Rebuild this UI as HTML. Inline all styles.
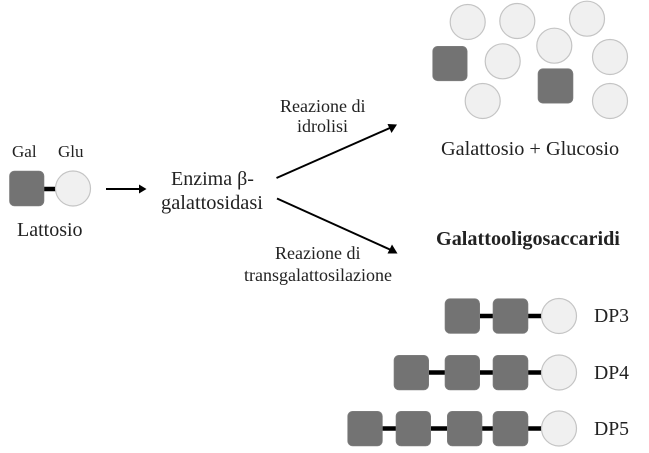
<!DOCTYPE html>
<html><head><meta charset="utf-8"><style>
html,body{margin:0;padding:0;background:#fff}
svg{display:block}
text{font-family:"Liberation Serif",serif;fill:#222}
.s{fill:#737373;stroke:#808080;stroke-width:.6}
.c{fill:#f0f0f0;stroke:#c4c4c4;stroke-width:1.2}
.b{stroke:#000;stroke-width:4.5}
.a{stroke:#000;stroke-width:2;fill:none}
</style></head><body>
<svg width="649" height="453" viewBox="0 0 649 453" xmlns="http://www.w3.org/2000/svg">
<rect width="649" height="453" fill="#fff"/>
<!-- Lactose -->
<line class="b" x1="44" y1="189" x2="57" y2="189"/>
<rect class="s" x="9.500" y="171" width="34.500" height="35" rx="5"/>
<circle class="c" cx="73" cy="188.500" r="17.500"/>
<text x="12" y="157" font-size="17">Gal</text>
<text x="58" y="157" font-size="17">Glu</text>
<text x="17" y="236" font-size="20">Lattosio</text>
<!-- Small arrow -->
<line class="a" x1="106" y1="189" x2="141" y2="189"/>
<polygon points="146.500,189 139,184.500 139,193.500" fill="#000"/>
<text x="171" y="185" font-size="20">Enzima β-</text>
<text x="161" y="209" font-size="20.400">galattosidasi</text>
<!-- Branch arrows -->
<line class="a" x1="276.500" y1="178" x2="391" y2="127.500"/>
<polygon points="397,124.500 387.500,124 391.500,133" fill="#000"/>
<line class="a" x1="277" y1="198.500" x2="391" y2="250"/>
<polygon points="397.500,253.500 392,244.500 387.500,253.500" fill="#000"/>
<text x="280" y="112" font-size="18">Reazione di</text>
<text x="297" y="132" font-size="18">idrolisi</text>
<text x="275" y="259" font-size="18">Reazione di</text>
<text x="244" y="281" font-size="18">transgalattosilazione</text>
<!-- Products -->
<circle class="c" cx="467.700" cy="22" r="17.500"/>
<circle class="c" cx="517.300" cy="21" r="17.500"/>
<circle class="c" cx="587" cy="18.700" r="17.500"/>
<circle class="c" cx="554.300" cy="45.700" r="17.500"/>
<circle class="c" cx="610" cy="57" r="17.500"/>
<circle class="c" cx="502.700" cy="61.300" r="17.500"/>
<circle class="c" cx="482.700" cy="101" r="17.500"/>
<circle class="c" cx="610" cy="101" r="17.500"/>
<rect class="s" x="432.700" y="46.300" width="34.500" height="34.500" rx="5"/>
<rect class="s" x="538" y="68.700" width="35" height="34.500" rx="5"/>
<text x="441" y="155" font-size="20.300">Galattosio + Glucosio</text>
<text x="436" y="245" font-size="20.200" font-weight="bold">Galattooligosaccaridi</text>
<!-- DP3 -->
<line class="b" x1="479" y1="316" x2="542" y2="316"/>
<rect class="s" x="445" y="298.700" width="34.700" height="34.700" rx="5"/>
<rect class="s" x="493" y="298.700" width="35" height="34.700" rx="5"/>
<circle class="c" cx="559" cy="316" r="17.500"/>
<text x="594" y="322" font-size="19.700">DP3</text>
<!-- DP4 -->
<line class="b" x1="428" y1="372.500" x2="542" y2="372.500"/>
<rect class="s" x="394" y="355.300" width="34.700" height="34.700" rx="5"/>
<rect class="s" x="445" y="355.300" width="34.700" height="34.700" rx="5"/>
<rect class="s" x="493" y="355.300" width="35" height="34.700" rx="5"/>
<circle class="c" cx="559" cy="372.500" r="17.500"/>
<text x="594" y="379" font-size="19.700">DP4</text>
<!-- DP5 -->
<line class="b" x1="382" y1="428.500" x2="542" y2="428.500"/>
<rect class="s" x="347.700" y="411.300" width="34.700" height="34.700" rx="5"/>
<rect class="s" x="396" y="411.300" width="34.700" height="34.700" rx="5"/>
<rect class="s" x="447.300" y="411.300" width="34.700" height="34.700" rx="5"/>
<rect class="s" x="493" y="411.300" width="35" height="34.700" rx="5"/>
<circle class="c" cx="559" cy="428.500" r="17.500"/>
<text x="594" y="435" font-size="19.700">DP5</text>
</svg>
</body></html>
